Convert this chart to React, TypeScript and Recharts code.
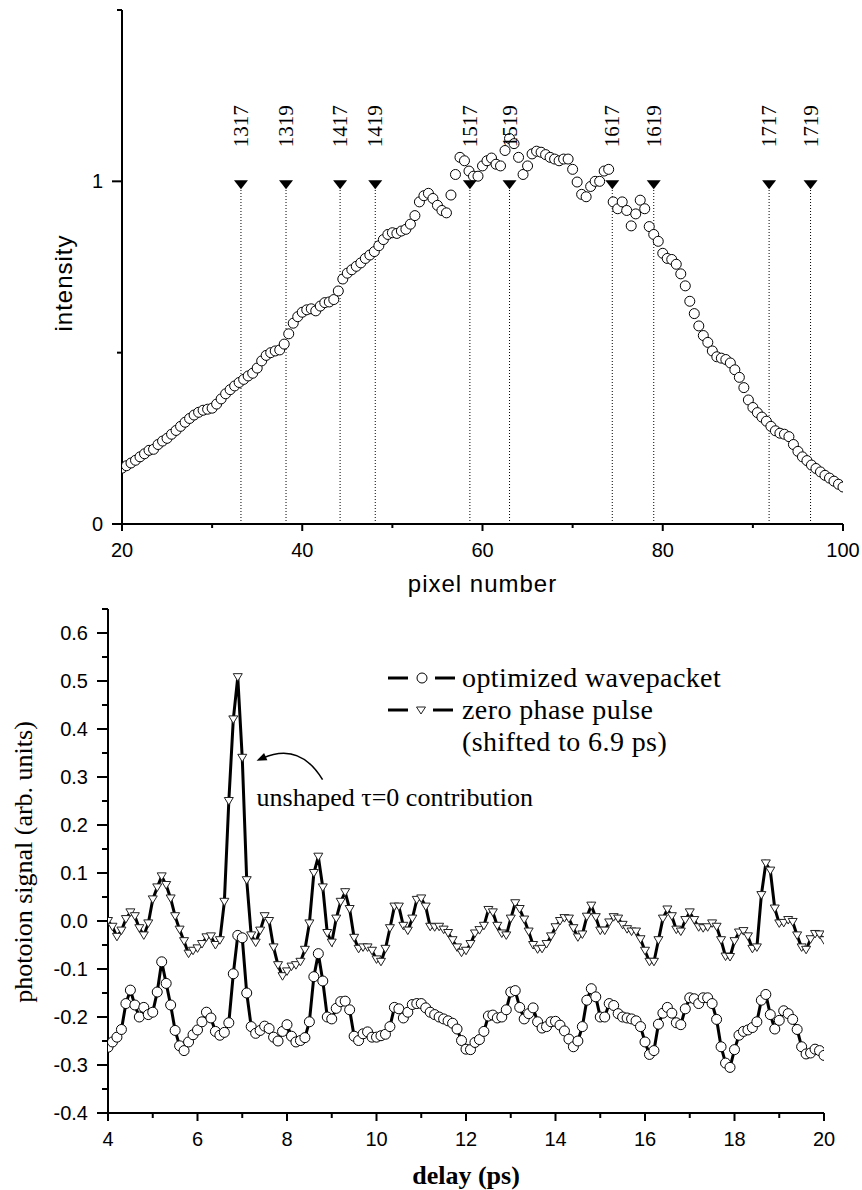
import React from 'react';
import {
  ComposedChart,
  Line,
  Scatter,
  XAxis,
  YAxis,
  ReferenceLine,
  ReferenceDot,
  Legend,
  Label,
} from 'recharts';

const SANS = '"Liberation Sans", Arial, Helvetica, sans-serif';
const SERIF = '"Liberation Serif", "Times New Roman", Times, serif';

// ---------------- Top panel data ----------------
const PIXEL_START = 20;
const PIXEL_STEP = 0.5;
const INTENSITY = [
  0.163, 0.170, 0.178, 0.186, 0.196, 0.205, 0.215, 0.218, 0.232, 0.242,
  0.250, 0.262, 0.273, 0.285, 0.297, 0.308, 0.318, 0.326, 0.332, 0.335,
  0.338, 0.350, 0.365, 0.380, 0.392, 0.403, 0.413, 0.422, 0.432, 0.440,
  0.455, 0.476, 0.492, 0.500, 0.505, 0.508, 0.525, 0.555, 0.586, 0.605,
  0.618, 0.625, 0.628, 0.622, 0.636, 0.646, 0.648, 0.655, 0.680, 0.715,
  0.732, 0.742, 0.752, 0.762, 0.775, 0.785, 0.795, 0.812, 0.830, 0.845,
  0.850, 0.848, 0.855, 0.860, 0.875, 0.900, 0.940, 0.958, 0.965, 0.950,
  0.930, 0.915, 0.908, 0.960, 1.020, 1.070, 1.060, 1.030, 1.015, 1.015,
  1.045, 1.060, 1.068, 1.050, 1.045, 1.090, 1.125, 1.110, 1.070, 1.020,
  1.045, 1.080, 1.088, 1.085, 1.078, 1.070, 1.065, 1.060, 1.065, 1.065,
  1.035, 0.998, 0.962, 0.955, 0.985, 1.000, 1.000, 1.030, 1.035, 0.940,
  0.920, 0.940, 0.915, 0.870, 0.905, 0.945, 0.920, 0.868, 0.845, 0.825,
  0.790, 0.775, 0.772, 0.758, 0.730, 0.695, 0.650, 0.614, 0.578, 0.550,
  0.530, 0.505, 0.488, 0.484, 0.480, 0.470, 0.450, 0.428, 0.398, 0.362,
  0.340, 0.325, 0.312, 0.300, 0.285, 0.272, 0.265, 0.262, 0.255, 0.232,
  0.212, 0.196, 0.185, 0.172, 0.162, 0.152, 0.142, 0.134, 0.125, 0.116,
  0.108,
];
const LINE_PIXELS = [33.2, 38.2, 44.2, 48.1, 58.6, 63.0, 74.4, 79.0, 91.8, 96.4];
const LINE_LABELS = ['1317', '1319', '1417', '1419', '1517', '1519', '1617', '1619', '1717', '1719'];
const LINE_LEVEL = 1;
const PIXEL_TICKS = [20, 30, 40, 50, 60, 70, 80, 90, 100];
const PIXEL_LABELED = [20, 40, 60, 80, 100];
const INTENSITY_TICKS = [0, 0.5, 1, 1.5];
const INTENSITY_LABELED = [0, 1];

// ---------------- Bottom panel data ----------------
const DELAY_START = 4;
const DELAY_STEP = 0.1;
const OPTIMIZED = [
  -0.263, -0.252, -0.242, -0.226, -0.172, -0.144, -0.175, -0.200, -0.180, -0.195,
  -0.190, -0.148, -0.085, -0.130, -0.175, -0.228, -0.260, -0.270, -0.252, -0.237,
  -0.227, -0.210, -0.190, -0.202, -0.230, -0.238, -0.232, -0.212, -0.110, -0.030,
  -0.035, -0.150, -0.220, -0.234, -0.228, -0.219, -0.224, -0.242, -0.250, -0.230,
  -0.216, -0.240, -0.252, -0.249, -0.243, -0.210, -0.116, -0.068, -0.125, -0.200,
  -0.204, -0.182, -0.168, -0.167, -0.185, -0.240, -0.249, -0.235, -0.231, -0.242,
  -0.242, -0.239, -0.236, -0.220, -0.180, -0.183, -0.202, -0.190, -0.174, -0.172,
  -0.172, -0.181, -0.190, -0.195, -0.200, -0.204, -0.208, -0.213, -0.225, -0.249,
  -0.267, -0.268, -0.253, -0.247, -0.230, -0.198, -0.196, -0.202, -0.200, -0.185,
  -0.148, -0.145, -0.180, -0.204, -0.193, -0.181, -0.210, -0.223, -0.220, -0.210,
  -0.209, -0.217, -0.229, -0.246, -0.262, -0.250, -0.220, -0.165, -0.141, -0.158,
  -0.200, -0.200, -0.172, -0.176, -0.193, -0.200, -0.202, -0.204, -0.208, -0.220,
  -0.252, -0.278, -0.270, -0.215, -0.192, -0.180, -0.192, -0.212, -0.216, -0.183,
  -0.160, -0.162, -0.172, -0.160, -0.160, -0.172, -0.205, -0.262, -0.296, -0.305,
  -0.268, -0.238, -0.230, -0.227, -0.222, -0.210, -0.165, -0.153, -0.195, -0.225,
  -0.207, -0.187, -0.193, -0.205, -0.226, -0.262, -0.277, -0.275, -0.267, -0.270,
  -0.280,
];
const ZERO_PHASE = [
  0.000, -0.012, -0.033, -0.020, 0.004, 0.018, 0.010, -0.015, -0.030, -0.005,
  0.045, 0.070, 0.093, 0.075, 0.047, 0.010, -0.018, -0.042, -0.068, -0.062,
  -0.057, -0.048, -0.034, -0.032, -0.050, -0.040, 0.040, 0.250, 0.420, 0.508,
  0.340, 0.085, -0.030, -0.045, -0.020, 0.010, 0.000, -0.055, -0.092, -0.115,
  -0.105, -0.095, -0.092, -0.085, -0.060, -0.005, 0.100, 0.134, 0.070, -0.025,
  -0.045, 0.005, 0.040, 0.060, 0.025, -0.035, -0.058, -0.055, -0.055, -0.062,
  -0.080, -0.085, -0.058, -0.015, 0.030, 0.030, -0.010, -0.020, 0.005, 0.044,
  0.047, 0.030, -0.012, -0.013, -0.012, -0.018, -0.025, -0.040, -0.055, -0.066,
  -0.062, -0.048, -0.026, -0.019, -0.010, 0.023, 0.018, -0.010, -0.026, -0.030,
  0.005, 0.037, 0.025, 0.003, -0.022, -0.050, -0.059, -0.058, -0.048, -0.032,
  -0.013, 0.000, 0.006, 0.005, -0.015, -0.034, -0.028, 0.009, 0.032, 0.008,
  -0.020, -0.020, -0.003, 0.008, 0.005, -0.008, -0.017, -0.022, -0.022, -0.038,
  -0.062, -0.085, -0.085, -0.040, 0.005, 0.024, 0.010, -0.018, -0.022, 0.002,
  0.018, 0.002, -0.013, -0.015, -0.013, -0.005, -0.012, -0.040, -0.074, -0.075,
  -0.042, -0.024, -0.021, -0.032, -0.058, -0.055, 0.054, 0.120, 0.105, 0.026,
  -0.005, -0.004, 0.002, -0.002, -0.030, -0.055, -0.060, -0.038, -0.027, -0.028,
  -0.040,
];
const DELAY_TICKS = [4, 5, 6, 7, 8, 9, 10, 11, 12, 13, 14, 15, 16, 17, 18, 19, 20];
const DELAY_LABELED = [4, 6, 8, 10, 12, 14, 16, 18, 20];
const SIGNAL_TICKS = [
  -0.4, -0.35, -0.3, -0.25, -0.2, -0.15, -0.1, -0.05, 0, 0.05, 0.1, 0.15, 0.2, 0.25,
  0.3, 0.35, 0.4, 0.45, 0.5, 0.55, 0.6, 0.65,
];
const SIGNAL_LABELED = [-0.4, -0.3, -0.2, -0.1, 0, 0.1, 0.2, 0.3, 0.4, 0.5, 0.6];
const SERIES_NAMES = ['optimized wavepacket', 'zero phase pulse', '(shifted to 6.9 ps)'];
const ANNOTATION_TEXT = 'unshaped τ=0 contribution';
const ANNOTATION_AT = { x: 7.32, y: 0.336 };

// ---------------- Derived tables ----------------
const topData = INTENSITY.map((v, i) => ({ x: +(PIXEL_START + i * PIXEL_STEP).toFixed(2), v }));
const markerData = LINE_PIXELS.map((x, i) => ({ x, y: LINE_LEVEL, label: LINE_LABELS[i] }));
const bottomData = OPTIMIZED.map((v, i) => ({
  t: +(DELAY_START + i * DELAY_STEP).toFixed(2),
  opt: v,
  zero: ZERO_PHASE[i],
}));

const isIn = (arr: number[], v: number) => arr.some((a) => Math.abs(a - v) < 1e-6);

function makeXTick(labeled: number[], majorLen: number, minorLen: number, labelDy: number, fmt: (v: number) => string) {
  return (props: any) => {
    const { x, y, payload } = props;
    const v = payload.value;
    const major = isIn(labeled, v);
    return (
      <g>
        <line x1={x} y1={y} x2={x} y2={y + (major ? majorLen : minorLen)} stroke="#000" strokeWidth={2} />
        {major && (
          <text x={x} y={y + labelDy} textAnchor="middle" dominantBaseline="central" fontFamily={SANS} fontSize={20} fill="#000">
            {fmt(v)}
          </text>
        )}
      </g>
    );
  };
}

function makeYTick(labeled: number[], majorLen: number, minorLen: number, gap: number, fmt: (v: number) => string) {
  return (props: any) => {
    const { x, y, payload } = props;
    const v = payload.value;
    const major = isIn(labeled, v);
    return (
      <g>
        <line x1={x} y1={y} x2={x - (major ? majorLen : minorLen)} y2={y} stroke="#000" strokeWidth={2} />
        {major && (
          <text x={x - majorLen - gap} y={y} textAnchor="end" dominantBaseline="central" fontFamily={SANS} fontSize={20} fill="#000">
            {fmt(v)}
          </text>
        )}
      </g>
    );
  };
}

const topXTick = makeXTick(PIXEL_LABELED, 7, 4, 26, (v) => String(v));
const topYTick = makeYTick(INTENSITY_LABELED, 10, 5, 9, (v) => String(v));
const botXTick = makeXTick(DELAY_LABELED, 8, 5, 26, (v) => String(v));
const botYTick = makeYTick(SIGNAL_LABELED, 11, 6, 9, (v) => (Math.abs(v) < 1e-9 ? '0.0' : v.toFixed(1)));

const CircleDot = (props: any) => {
  const { cx, cy } = props;
  if (cx == null || cy == null) return null;
  return <circle cx={cx} cy={cy} r={5} fill="#fff" stroke="#000" strokeWidth={1} />;
};

const TriDot = (props: any) => {
  const { cx, cy } = props;
  if (cx == null || cy == null) return null;
  return (
    <path
      d={`M${cx - 4.5},${cy - 3.5} L${cx + 4.5},${cy - 3.5} L${cx},${cy + 4} Z`}
      fill="#fff"
      stroke="#222"
      strokeWidth={1}
    />
  );
};

const MarkerShape = (props: any) => {
  const { cx, cy, payload } = props;
  if (cx == null || cy == null) return null;
  return (
    <g>
      <path d={`M${cx - 7},${cy - 1} L${cx + 7},${cy - 1} L${cx},${cy + 8} Z`} fill="#000" />
      <text
        transform={`translate(${cx + 7},${cy - 34}) rotate(-90)`}
        fontFamily={SERIF}
        fontSize={21}
        fill="#000"
      >
        {payload.label}
      </text>
    </g>
  );
};

const AnnotationShape = (props: any) => {
  const { cx, cy } = props;
  if (cx == null || cy == null) return null;
  return (
    <g>
      <path d={`M${cx + 66},${cy + 20} Q${cx + 43},${cy - 18} ${cx + 6},${cy - 1.5}`} fill="none" stroke="#000" strokeWidth={1.5} />
      <path d={`M${cx},${cy + 1} L${cx + 10.8},${cy + 0.6} L${cx + 7.5},${cy - 6.8} Z`} fill="#000" />
      <text x={cx} y={cy + 38} dominantBaseline="central" fontFamily={SERIF} fontSize={26} fill="#000">
        {ANNOTATION_TEXT}
      </text>
    </g>
  );
};

const LegendContent = () => (
  <div style={{ fontFamily: SERIF, fontSize: 28, letterSpacing: 0.4, color: '#000', lineHeight: '32px', whiteSpace: 'nowrap' }}>
    <div style={{ display: 'flex', alignItems: 'center', height: 32 }}>
      <svg width={77} height={32} style={{ display: 'block' }}>
        <line x1={3} y1={16} x2={23} y2={16} stroke="#000" strokeWidth={3} />
        <circle cx={37} cy={16} r={5} fill="#fff" stroke="#000" strokeWidth={1} />
        <line x1={50} y1={16} x2={70} y2={16} stroke="#000" strokeWidth={3} />
      </svg>
      <span>{SERIES_NAMES[0]}</span>
    </div>
    <div style={{ display: 'flex', alignItems: 'center', height: 32 }}>
      <svg width={77} height={32} style={{ display: 'block' }}>
        <line x1={3} y1={16} x2={23} y2={16} stroke="#000" strokeWidth={3} />
        <path d="M31.5,13 L40.5,13 L36,20 Z" fill="#fff" stroke="#222" strokeWidth={1} />
        <line x1={48} y1={16} x2={68} y2={16} stroke="#000" strokeWidth={3} />
      </svg>
      <span>{SERIES_NAMES[1]}</span>
    </div>
    <div style={{ height: 32, paddingLeft: 77 }}>
      <span>{SERIES_NAMES[2]}</span>
    </div>
  </div>
);

const vbOf = (p: any) => p.viewBox || { x: 0, y: 0, width: 0, height: 0 };

const PixelTitle = (p: any) => {
  const vb = vbOf(p);
  return (
    <text x={vb.x + vb.width / 2} y={vb.y + 59} textAnchor="middle" dominantBaseline="central" fontFamily={SANS} fontSize={24} letterSpacing={1} fill="#000">
      pixel number
    </text>
  );
};
const IntensityTitle = (p: any) => {
  const vb = vbOf(p);
  const x = vb.x + 63;
  const y = vb.y + vb.height / 2 + 16;
  return (
    <text transform={`translate(${x},${y}) rotate(-90)`} textAnchor="middle" dominantBaseline="central" fontFamily={SANS} fontSize={24} letterSpacing={1} fill="#000">
      intensity
    </text>
  );
};
const DelayTitle = (p: any) => {
  const vb = vbOf(p);
  return (
    <text x={vb.x + vb.width / 2} y={vb.y + 62} textAnchor="middle" dominantBaseline="central" fontFamily={SERIF} fontWeight="bold" fontSize={26} fill="#000">
      delay (ps)
    </text>
  );
};
const SignalTitle = (p: any) => {
  const vb = vbOf(p);
  const x = vb.x + 23;
  const y = vb.y + vb.height / 2 + 1;
  return (
    <text transform={`translate(${x},${y}) rotate(-90)`} textAnchor="middle" dominantBaseline="central" fontFamily={SERIF} fontSize={26} fill="#000">
      photoion signal (arb. units)
    </text>
  );
};

const axisLine = { stroke: '#000', strokeWidth: 2 };

export default function App() {
  return (
    <div style={{ position: 'absolute', left: 0, top: 0, width: 862, height: 1190, background: '#fff' }}>
      <div style={{ position: 'absolute', left: 0, top: 0 }}>
        <ComposedChart width={862} height={600} data={topData} margin={{ top: 10, right: 19, bottom: 0, left: 0 }}>
          <XAxis
            dataKey="x"
            type="number"
            domain={[20, 100]}
            ticks={PIXEL_TICKS}
            interval={0}
            tickSize={0}
            tickMargin={0}
            tickLine={false}
            axisLine={axisLine}
            tick={topXTick}
            height={76}
            allowDataOverflow
          >
            <Label content={PixelTitle} />
          </XAxis>
          <YAxis
            type="number"
            domain={[0, 1.5]}
            ticks={INTENSITY_TICKS}
            interval={0}
            tickSize={0}
            tickMargin={0}
            tickLine={false}
            axisLine={axisLine}
            tick={topYTick}
            width={122}
            allowDataOverflow
          >
            <Label content={IntensityTitle} />
          </YAxis>
          {LINE_PIXELS.map((px) => (
            <ReferenceLine
              key={px}
              segment={[
                { x: px, y: 0 },
                { x: px, y: LINE_LEVEL },
              ]}
              stroke="#000"
              strokeWidth={1}
              strokeDasharray="1 2"
            />
          ))}
          <Line
            dataKey="v"
            stroke="none"
            dot={CircleDot}
            activeDot={false}
            isAnimationActive={false}
          />
          <Scatter data={markerData} dataKey="y" shape={MarkerShape} isAnimationActive={false} />
        </ComposedChart>
      </div>
      <div style={{ position: 'absolute', left: 0, top: 600 }}>
        <ComposedChart width={862} height={590} data={bottomData} margin={{ top: 9, right: 38, bottom: 0, left: 0 }}>
          <XAxis
            dataKey="t"
            type="number"
            domain={[4, 20]}
            ticks={DELAY_TICKS}
            interval={0}
            tickSize={0}
            tickMargin={0}
            tickLine={false}
            axisLine={axisLine}
            tick={botXTick}
            height={77}
            allowDataOverflow
          >
            <Label content={DelayTitle} />
          </XAxis>
          <YAxis
            type="number"
            domain={[-0.4, 0.65]}
            ticks={SIGNAL_TICKS}
            interval={0}
            tickSize={0}
            tickMargin={0}
            tickLine={false}
            axisLine={axisLine}
            tick={botYTick}
            width={108}
            allowDataOverflow
          >
            <Label content={SignalTitle} />
          </YAxis>
          <Line
            dataKey="zero"
            name={SERIES_NAMES[1]}
            type="linear"
            stroke="#000"
            strokeWidth={3}
            dot={TriDot}
            activeDot={false}
            isAnimationActive={false}
          />
          <Line
            dataKey="opt"
            name={SERIES_NAMES[0]}
            type="linear"
            stroke="#000"
            strokeWidth={3}
            dot={CircleDot}
            activeDot={false}
            isAnimationActive={false}
          />
          <ReferenceDot x={ANNOTATION_AT.x} y={ANNOTATION_AT.y} r={1} shape={AnnotationShape} />
          <Legend
            verticalAlign="middle"
            layout="horizontal"
            content={LegendContent}
            wrapperStyle={{ left: 385, top: 62, width: 440, height: 100 }}
          />
        </ComposedChart>
      </div>
    </div>
  );
}
